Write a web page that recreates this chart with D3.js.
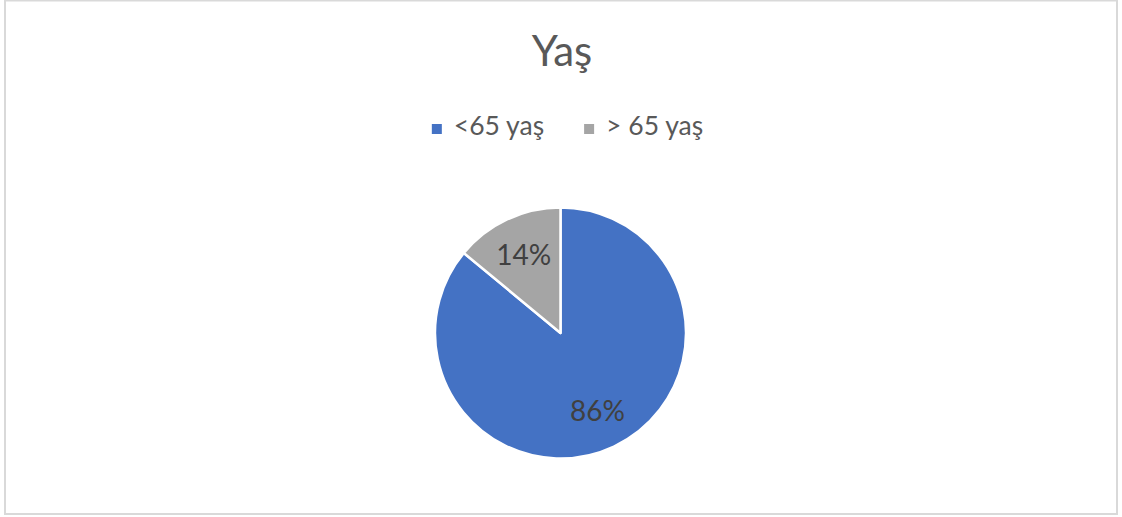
<!DOCTYPE html>
<html>
<head>
<meta charset="utf-8">
<script src="https://cdn.jsdelivr.net/npm/d3@7"></script>
<style>
  html, body { margin: 0; padding: 0; background: #fff; }
  svg { display: block; }
  text { font-family: Lato, "Open Sans", "Liberation Sans", sans-serif; }
</style>
</head>
<body>
<svg id="chart" width="1122" height="517"></svg>
<script>
// Age groups and their share of the total (percent)
const title = "Yaş";
const categories = ["<65 yaş", "> 65 yaş"];
const values = [86, 14];
const colors = ["#4472C4", "#A5A5A5"];

const W = 1122, H = 517;
const svg = d3.select("#chart");

// chart frame
svg.append("rect")
  .attr("x", 5).attr("y", 0.5)
  .attr("width", 1112).attr("height", 513.5)
  .attr("fill", "#fff")
  .attr("stroke", "#D9D9D9")
  .attr("stroke-width", 2);

// title
svg.append("text")
  .attr("x", 562).attr("y", 66)
  .attr("text-anchor", "middle")
  .attr("font-size", 42)
  .attr("fill", "#595959")
  .text(title);

// legend, centred horizontally
const legend = svg.append("g");
const sw = 10, gapAfterSwatch = 12, gapBetween = 40;
let lx = 0;
categories.forEach((c, i) => {
  const g = legend.append("g").attr("transform", `translate(${lx},0)`);
  g.append("rect")
    .attr("x", 0).attr("y", -11)
    .attr("width", sw).attr("height", sw)
    .attr("fill", colors[i]);
  const t = g.append("text")
    .attr("x", sw + gapAfterSwatch).attr("y", 0)
    .attr("font-size", 26.5)
    .attr("fill", "#595959")
    .text(c);
  lx += sw + gapAfterSwatch + t.node().getComputedTextLength() + gapBetween;
});
const legendWidth = lx - gapBetween;
legend.attr("transform", `translate(${567.5 - legendWidth / 2},135)`);

// pie
const cx = 560.5, cy = 333, R = 125.5;
const pie = d3.pie().sort(null).value(d => d)(values);
const arc = d3.arc().innerRadius(0).outerRadius(R);
const labelArc = d3.arc().innerRadius(R * 0.69).outerRadius(R * 0.69);

const gPie = svg.append("g").attr("transform", `translate(${cx},${cy})`);
gPie.selectAll("path")
  .data(pie)
  .join("path")
  .attr("d", arc)
  .attr("fill", (d, i) => colors[i])
  .attr("stroke", "#fff")
  .attr("stroke-width", 2.5)
  .attr("stroke-linejoin", "round");

gPie.selectAll("text.lbl")
  .data(pie)
  .join("text")
  .attr("class", "lbl")
  .attr("transform", d => `translate(${labelArc.centroid(d)})`)
  .attr("text-anchor", "middle")
  .attr("dy", "0.36em")
  .attr("font-size", 28)
  .attr("fill", "#404040")
  .text(d => d.data + "%");
</script>
</body>
</html>
